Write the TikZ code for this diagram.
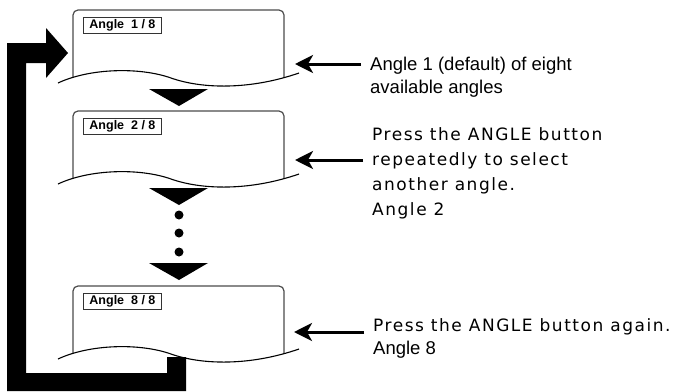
\documentclass[tikz,border=0pt]{standalone}
\usepackage{fontspec}
\setmainfont{Liberation Sans}
\newfontfamily\widefont[LetterSpace=9]{DejaVu Sans}
\usetikzlibrary{calc,arrows.meta,positioning}

\begin{document}
\begin{tikzpicture}[x=1pt,y=-1pt,
  screen/.style={draw=black!70,line width=1.2pt,rounded corners=5pt},
  tag/.style={draw=black!80,line width=0.9pt,anchor=north west,inner xsep=6pt,inner ysep=0pt,
    minimum height=16pt,font=\bfseries\fontsize{12.5}{14}\selectfont},
  pointer/.style={line width=3pt,-{Stealth[length=18pt,width=18pt,inset=5pt]}},
  wide/.style={font=\widefont\fontsize{17}{25}\selectfont,align=left,anchor=base west,
    inner xsep=9pt,inner ysep=0pt},
  narrow/.style={font=\fontsize{18.5}{23}\selectfont,align=left,anchor=base west,
    inner xsep=9pt,inner ysep=0pt}]
\useasboundingbox (0,0) rectangle (674,391);

% the three screens, cut off by a wavy edge
\foreach \top/\num in {10/1,111/2,286/8}{
  \begin{scope}[shift={(0,\top)}]
    \begin{scope}
      \clip (58,-5) -- (58,73) .. controls (90,58) and (140,57) .. (171,68)
        .. controls (202,79) and (250,80) .. (299,63) -- (299,-5) -- cycle;
      \draw[screen] (73,0) rectangle (284,100);
    \end{scope}
    \draw[line width=1.1pt] (58,73) .. controls (90,58) and (140,57) .. (171,68)
      .. controls (202,79) and (250,80) .. (299,63);
    \node[tag] (tag\num) at (83,7) {Angle\ \ \num\ /\ 8};
  \end{scope}
}

% down triangles and dots
\foreach \y in {89,188,263}
  \fill (149,\y) -- (208,\y) -- (179,\y+17) -- cycle;
\foreach \y in {215,233,252}
  \fill (179,\y) circle[radius=4.5];

% loop back arrow
\fill (7,43) -- (46,43) -- (46,28) -- (68,53) -- (46,78) -- (46,63) -- (26,63)
  -- (26,373) -- (167,373) -- (167,357) -- (186,357) -- (186,391) -- (7,391) -- cycle;

% notes (base = last line)
\node[narrow] (noteA) at (361,93) {Angle 1 (default) of eight\\available angles};
\node[wide] (noteB) at (363,215) {Press the ANGLE button\\repeatedly to select\\another angle.\\Angle 2};
\node[wide] (noteC) at (364,354) {Press the ANGLE button again.\\[-2pt]
  {\normalfont\fontsize{18.5}{23}\selectfont Angle 8}};

\coordinate (tipA) at (295,64);
\coordinate (tipB) at (295,160);
\coordinate (tipC) at (294,332);
\draw[pointer] (noteA.west |- tipA) -- (tipA);
\draw[pointer] (noteB.west |- tipB) -- (tipB);
\draw[pointer] (noteC.west |- tipC) -- (tipC);
\end{tikzpicture}
\end{document}
